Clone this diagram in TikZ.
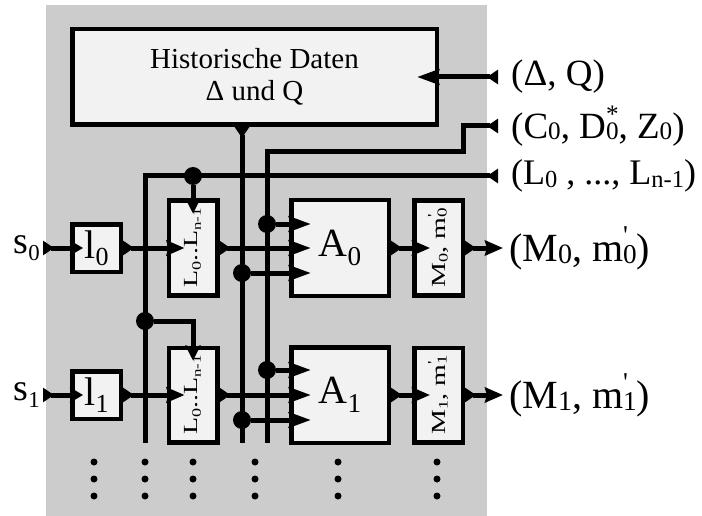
\documentclass[tikz,border=0pt]{standalone}
\usepackage{fontspec}
\setmainfont{Liberation Serif}
\usepackage{graphicx}
\usetikzlibrary{arrows.meta}
\definecolor{bggray}{RGB}{204,204,204}
\definecolor{boxfill}{RGB}{242,242,242}
\newcommand{\lowsub}[3]{\raisebox{#1}{\scalebox{#2}{#3}}}
\newcommand{\stk}[2]{\makebox[0pt][l]{\raisebox{0.42em}{\scalebox{0.68}{#2}}}\raisebox{-0.05em}{\scalebox{0.68}{#1}}}
\tikzset{
  wtail/.tip={Triangle[reversed,length=11pt,width=14pt]},
  box/.style={draw, line width=4.5pt, fill=boxfill, inner sep=0pt},
  wire/.style={line width=5pt},
  conn/.style={wire, arrows={wtail-Stealth[length=#1,width=15pt,inset=2pt]}, shorten >=-#1},
  conn/.default=18pt,
  tap/.style={wire, arrows={-Stealth[length=#1,width=15pt,inset=2pt]}, shorten >=-#1},
  tap/.default=18pt,
  outc/.style={wire, arrows={wtail-Stealth[length=18pt,width=15pt,inset=2pt]}},
  lab/.style={inner sep=0pt, font=\fontsize{37}{40}\selectfont},
  dot/.style={circle, fill=black, inner sep=0pt, minimum size=18pt},
}
\begin{document}
\begin{tikzpicture}[x=1pt,y=-1pt]
\useasboundingbox (0,0) rectangle (702,516);
\fill[bggray] (46,5) rectangle (487,516);

% boxes
\node[box, minimum width=364.5pt, minimum height=95.5pt, align=center,
      font=\fontsize{29}{32}\selectfont] (hist) at (254.5,77) {Historische Daten\\Δ und Q};

\node[box, minimum width=48.5pt, minimum height=47.5pt] (l0) at (96.5,248)
  {\fontsize{40}{40}\selectfont l\lowsub{-0.18em}{0.65}{0}};
\node[box, minimum width=48.5pt, minimum height=47.5pt] (l1) at (96.5,395)
  {\fontsize{40}{40}\selectfont l\lowsub{-0.18em}{0.65}{1}};

\node[box, minimum width=48.5pt, minimum height=94.5pt] (Lb0) at (193,248)
  {\rotatebox{90}{\scalebox{1.4}[1]{\fontsize{20}{20}\selectfont L\lowsub{-0.15em}{0.65}{0}..L\lowsub{-0.15em}{0.6}{n-1}}}};
\node[box, minimum width=48.5pt, minimum height=94.5pt] (Lb1) at (193,395)
  {\rotatebox{90}{\scalebox{1.4}[1]{\fontsize{20}{20}\selectfont L\lowsub{-0.15em}{0.65}{0}..L\lowsub{-0.15em}{0.6}{n-1}}}};

\node[box, minimum width=97.5pt, minimum height=95.5pt] (A0) at (340,248)
  {\fontsize{40}{40}\selectfont A\lowsub{-0.22em}{0.68}{0}};
\node[box, minimum width=97.5pt, minimum height=95.5pt] (A1) at (340,395)
  {\fontsize{40}{40}\selectfont A\lowsub{-0.22em}{0.68}{1}};

\node[box, minimum width=48.5pt, minimum height=94.5pt] (M0) at (438.5,248)
  {\rotatebox{90}{\scalebox{1.4}[1]{\fontsize{20}{20}\selectfont M\lowsub{-0.1em}{0.65}{0}, m\stk{0}{\textquotesingle}}}};
\node[box, minimum width=48.5pt, minimum height=94.5pt] (M1) at (438.5,395)
  {\rotatebox{90}{\scalebox{1.4}[1]{\fontsize{20}{20}\selectfont M\lowsub{-0.1em}{0.65}{1}, m\stk{1}{\textquotesingle}}}};

% labels
\node[lab, anchor=west] (dq) at (511,77) {(Δ, Q)};
\node[lab, anchor=west] (cz) at (511,126) {(C\lowsub{-0.05em}{0.68}{0}, D\stk{0}{*}, Z\lowsub{-0.05em}{0.68}{0})};
\node[lab, anchor=west, font=\fontsize{36}{40}\selectfont] (lz) at (511,176) {(L\lowsub{-0.08em}{0.68}{0} , ..., L\lowsub{-0.08em}{0.68}{n-1})};
\node[lab, anchor=west, font=\fontsize{40}{42}\selectfont] (mz0) at (509,248) {(M\lowsub{-0.05em}{0.7}{0}, m\stk{0}{\textquotesingle})};
\node[lab, anchor=west, font=\fontsize{40}{42}\selectfont] (mz1) at (509,395) {(M\lowsub{-0.05em}{0.7}{1}, m\stk{1}{\textquotesingle})};
\node[inner sep=0pt, anchor=east, font=\fontsize{38}{40}\selectfont] (s0) at (40,248) {s\lowsub{-0.2em}{0.6}{0}};
\node[inner sep=0pt, anchor=east, font=\fontsize{38}{40}\selectfont] (s1) at (40,395) {s\lowsub{-0.2em}{0.6}{1}};

% junction dots
\node[dot] (j1) at (193,176) {};
\node[dot] (j4) at (145,321) {};
\node[dot] (c0) at (267,224) {};
\node[dot] (h0) at (242,273) {};
\node[dot] (c1) at (267,370) {};
\node[dot] (h1) at (242,420) {};

\coordinate (lb) at (145,443);
\coordinate (hb) at (242,443);
\coordinate (cb) at (267,443);
\coordinate (cbend) at (463,152);

% buses
\draw[conn=22pt] ([xshift=-13pt]dq.west) -- (hist.east);
\draw[wire, arrows={wtail-}] ([xshift=-13pt]cz.west) -| (cbend) -| (cb);
\draw[wire, arrows={wtail-}] ([xshift=-13pt]lz.west) -| (lb);
\draw[wire, arrows={wtail-}] (hist.south -| hb) -- (hb);

% taps
\draw[tap=15pt] (j1) -- (Lb0.north);
\draw[tap=15pt] (j4) -| (Lb1.north);
\draw[tap=22pt] (c0) -- (c0 -| A0.west);
\draw[tap=22pt] (h0) -- (h0 -| A0.west);
\draw[tap=22pt] (c1) -- (c1 -| A1.west);
\draw[tap=22pt] (h1) -- (h1 -| A1.west);

% rows
\draw[conn=13pt] ([xshift=3pt]s0.east) -- (l0.west);
\draw[conn] (l0.east) -- (Lb0.west);
\draw[conn=22pt] (Lb0.east) -- (A0.west);
\draw[conn] (A0.east) -- (M0.west);
\draw[outc] (M0.east) -- ([xshift=-6pt]mz0.west);

\draw[conn=13pt] ([xshift=3pt]s1.east) -- (l1.west);
\draw[conn] (l1.east) -- (Lb1.west);
\draw[conn=22pt] (Lb1.east) -- (A1.west);
\draw[conn] (A1.east) -- (M1.west);
\draw[outc] (M1.east) -- ([xshift=-6pt]mz1.west);

% continuation dots
\foreach \x in {94,145,193,255,338,437}
  \foreach \y in {462,479,496}
    \fill (\x,\y) circle[radius=3.5pt];
\end{tikzpicture}
\end{document}
